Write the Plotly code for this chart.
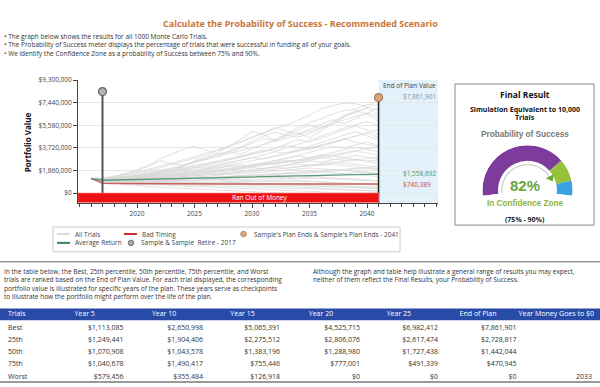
import plotly.graph_objects as go

W, H = 600, 387
BODY = "Open Sans"
ARIAL = "Liberation Sans"

# ---------------- text ----------------
title_text = "Calculate the Probability of Success - Recommended Scenario"
bullets = [
    "• The graph below shows the results for all 1000 Monte Carlo Trials.",
    "• The Probability of Success meter displays the percentage of trials that were successful in funding all of your goals.",
    "• We identify the Confidence Zone as a probability of Success between 75% and 90%.",
]
para_left = [
    "In the table below, the Best, 25th percentile, 50th percentile, 75th percentile, and Worst",
    "trials are ranked based on the End of Plan Value. For each trial displayed, the corresponding",
    "portfolio value is illustrated for specific years of the plan. These years serve as checkpoints",
    "to illustrate how the portfolio might perform over the life of the plan.",
]
para_right = [
    "Although the graph and table help illustrate a general range of results you may expect,",
    "neither of them reflect the Final Results, your Probability of Success.",
]

# ---------------- chart data ($ millions, 2016..2041) ----------------
years = list(range(2016, 2042))
trial_paths_m = [
    [1.20, 1.05, 1.02, 1.10, 1.113085, 1.35, 1.62, 1.95, 2.20, 2.650998, 2.95, 3.30, 3.85, 4.40, 5.065391, 4.80, 4.35, 4.70, 4.95, 4.525715, 5.10, 5.75, 6.40, 6.70, 6.982412, 7.861901],
    [1.20, 1.10, 1.15, 1.22, 1.249441, 1.38, 1.52, 1.63, 1.78, 1.904406, 2.02, 2.10, 2.25, 2.18, 2.275512, 2.40, 2.55, 2.70, 2.62, 2.806076, 2.95, 2.80, 2.70, 2.75, 2.617474, 2.728817],
    [1.20, 1.00, 1.03, 1.08, 1.070908, 1.10, 1.02, 0.98, 1.06, 1.043578, 1.12, 1.25, 1.30, 1.42, 1.383196, 1.35, 1.25, 1.30, 1.22, 1.288980, 1.40, 1.55, 1.62, 1.70, 1.727438, 1.442044],
    [1.20, 0.98, 1.02, 1.05, 1.040678, 1.15, 1.28, 1.36, 1.42, 1.490417, 1.30, 1.12, 0.95, 0.85, 0.755446, 0.80, 0.74, 0.82, 0.79, 0.777001, 0.70, 0.62, 0.58, 0.52, 0.491339, 0.470945],
    [1.20, 0.90, 0.82, 0.70, 0.579456, 0.52, 0.47, 0.42, 0.39, 0.355484, 0.30, 0.25, 0.20, 0.16, 0.126918, 0.08, 0.03, 0, 0, 0, 0, 0, 0, 0, 0, 0],
    [1.20, 1.25, 1.40, 1.55, 1.75, 1.95, 2.20, 2.45, 2.70, 3.00, 3.30, 3.55, 3.90, 4.20, 4.60, 4.90, 5.30, 5.60, 6.00, 6.40, 6.90, 7.20, 7.40, 7.35, 7.10, 6.80],
    [1.20, 1.20, 1.35, 1.60, 1.90, 2.30, 2.80, 3.20, 3.60, 3.85, 3.50, 3.20, 3.40, 3.70, 4.10, 4.50, 4.30, 4.80, 5.20, 5.60, 5.30, 5.90, 6.30, 6.60, 7.00, 6.40],
    [1.20, 1.15, 1.30, 1.55, 1.85, 2.20, 2.67, 2.40, 2.30, 2.55, 2.80, 3.10, 3.40, 3.20, 3.60, 4.00, 4.40, 4.90, 5.40, 5.80, 6.10, 6.50, 6.80, 6.90, 7.30, 7.20],
    [1.20, 1.10, 1.20, 1.30, 1.45, 1.60, 1.80, 2.00, 2.25, 2.50, 2.75, 3.00, 3.20, 3.45, 3.70, 3.95, 4.20, 4.50, 4.80, 5.10, 5.40, 5.70, 6.00, 6.30, 6.60, 6.20],
    [1.20, 1.15, 1.25, 1.40, 1.55, 1.70, 1.85, 2.05, 2.30, 2.55, 2.85, 3.15, 3.45, 3.80, 4.25, 4.70, 5.00, 4.75, 4.60, 4.90, 5.30, 5.70, 6.20, 6.80, 6.50, 5.90],
    [1.20, 1.12, 1.22, 1.33, 1.47, 1.62, 1.80, 1.95, 2.10, 2.28, 2.45, 2.62, 2.85, 3.05, 3.30, 3.55, 3.45, 3.70, 4.00, 4.35, 4.70, 5.00, 5.35, 5.60, 5.90, 5.50],
    [1.20, 1.08, 1.15, 1.25, 1.35, 1.48, 1.60, 1.75, 1.92, 2.10, 2.30, 2.50, 2.70, 2.95, 3.20, 3.40, 3.70, 4.05, 4.40, 4.20, 4.50, 4.85, 5.20, 5.50, 5.20, 4.80],
    [1.20, 1.10, 1.18, 1.28, 1.40, 1.52, 1.66, 1.80, 1.95, 2.12, 2.05, 2.25, 2.45, 2.65, 2.90, 3.15, 3.40, 3.30, 3.55, 3.85, 4.15, 4.45, 4.75, 5.05, 4.70, 4.40],
    [1.20, 1.05, 1.10, 1.18, 1.27, 1.37, 1.48, 1.60, 1.72, 1.85, 2.00, 2.15, 2.30, 2.48, 2.66, 2.85, 3.05, 3.25, 3.48, 3.72, 3.95, 4.20, 4.45, 4.20, 4.00, 3.80],
    [1.20, 1.08, 1.14, 1.22, 1.31, 1.40, 1.52, 1.45, 1.58, 1.72, 1.86, 2.02, 2.18, 2.35, 2.20, 2.40, 2.62, 2.85, 3.10, 3.35, 3.60, 3.85, 3.70, 3.95, 4.20, 3.90],
    [1.20, 1.03, 1.08, 1.14, 1.20, 1.28, 1.36, 1.45, 1.55, 1.66, 1.78, 1.90, 2.04, 2.18, 2.33, 2.50, 2.68, 2.86, 3.05, 2.90, 3.10, 3.32, 3.55, 3.78, 3.60, 3.40],
    [1.20, 1.06, 1.12, 1.19, 1.26, 1.34, 1.43, 1.53, 1.64, 1.76, 1.70, 1.82, 1.95, 2.10, 2.25, 2.42, 2.35, 2.52, 2.72, 2.92, 3.14, 3.00, 3.22, 3.45, 3.30, 3.10],
    [1.20, 1.02, 1.06, 1.11, 1.17, 1.24, 1.32, 1.40, 1.49, 1.58, 1.68, 1.79, 1.90, 2.02, 2.15, 2.29, 2.44, 2.60, 2.50, 2.68, 2.86, 3.05, 2.92, 3.10, 2.95, 2.80],
    [1.20, 1.04, 1.09, 1.15, 1.22, 1.30, 1.38, 1.46, 1.40, 1.50, 1.61, 1.72, 1.84, 1.97, 2.10, 2.02, 2.16, 2.31, 2.47, 2.64, 2.55, 2.72, 2.90, 2.78, 2.60, 2.45],
    [1.20, 1.00, 1.03, 1.07, 1.12, 1.18, 1.24, 1.31, 1.38, 1.46, 1.54, 1.63, 1.72, 1.82, 1.92, 2.03, 2.14, 2.26, 2.38, 2.30, 2.42, 2.55, 2.45, 2.35, 2.25, 2.15],
    [1.20, 1.07, 1.13, 1.09, 1.16, 1.24, 1.33, 1.42, 1.38, 1.47, 1.57, 1.52, 1.63, 1.74, 1.86, 1.98, 2.11, 2.04, 2.18, 2.32, 2.24, 2.38, 2.28, 2.14, 2.05, 1.95],
    [1.20, 0.98, 1.00, 1.03, 1.07, 1.11, 1.16, 1.21, 1.26, 1.32, 1.38, 1.44, 1.51, 1.58, 1.65, 1.73, 1.81, 1.89, 1.98, 2.07, 2.00, 1.92, 1.85, 1.78, 1.70, 1.62],
    [1.20, 1.02, 1.05, 1.02, 1.06, 1.11, 1.08, 1.14, 1.20, 1.26, 1.22, 1.29, 1.36, 1.43, 1.38, 1.46, 1.54, 1.62, 1.56, 1.65, 1.74, 1.68, 1.60, 1.52, 1.44, 1.36],
    [1.20, 0.96, 0.97, 0.99, 1.01, 1.04, 1.07, 1.10, 1.14, 1.18, 1.22, 1.26, 1.21, 1.26, 1.31, 1.36, 1.42, 1.48, 1.43, 1.37, 1.31, 1.25, 1.19, 1.13, 1.07, 1.01],
    [1.20, 0.95, 0.94, 0.96, 0.98, 0.95, 0.98, 1.01, 1.04, 1.00, 1.03, 1.07, 1.11, 1.06, 1.02, 0.98, 1.03, 1.08, 1.02, 0.96, 0.90, 0.85, 0.80, 0.75, 0.70, 0.64],
    [1.20, 0.93, 0.90, 0.88, 0.86, 0.84, 0.87, 0.90, 0.86, 0.83, 0.80, 0.84, 0.88, 0.84, 0.80, 0.76, 0.72, 0.68, 0.64, 0.60, 0.56, 0.52, 0.48, 0.44, 0.40, 0.36],
    [1.20, 0.92, 0.89, 0.83, 0.81, 0.76, 0.75, 0.70, 0.69, 0.64, 0.63, 0.58, 0.57, 0.52, 0.51, 0.46, 0.45, 0.40, 0.39, 0.34, 0.33, 0.28, 0.27, 0.22, 0.21, 0.16],
    [1.20, 0.94, 0.91, 0.89, 0.92, 0.88, 0.85, 0.82, 0.86, 0.83, 0.79, 0.76, 0.72, 0.69, 0.65, 0.62, 0.58, 0.54, 0.50, 0.46, 0.42, 0.37, 0.32, 0.27, 0.22, 0.17],
    [1.20, 0.90, 0.86, 0.79, 0.76, 0.70, 0.67, 0.61, 0.59, 0.53, 0.51, 0.45, 0.43, 0.37, 0.35, 0.29, 0.27, 0.21, 0.19, 0.13, 0.11, 0.05, 0.02, 0, 0, 0],
    [1.20, 1.01, 1.04, 1.08, 1.13, 1.18, 1.23, 1.29, 1.35, 1.41, 1.48, 1.55, 1.62, 1.70, 1.78, 1.86, 1.95, 2.04, 2.14, 2.24, 2.35, 2.46, 2.58, 2.70, 2.82, 2.95],
    [1.20, 1.18, 1.32, 1.48, 1.66, 1.86, 2.08, 2.32, 2.58, 2.86, 3.16, 3.48, 3.82, 4.18, 4.56, 4.96, 5.38, 5.10, 4.85, 5.25, 5.65, 6.05, 5.70, 6.10, 6.55, 7.00],
    [1.20, 1.09, 1.17, 1.26, 1.36, 1.47, 1.59, 1.72, 1.86, 2.01, 2.17, 2.34, 2.52, 2.71, 2.91, 2.80, 3.00, 3.21, 3.43, 3.66, 3.90, 4.15, 4.41, 4.68, 4.96, 5.25],
    [1.20, 1.11, 1.21, 1.32, 1.44, 1.57, 1.71, 1.86, 2.02, 2.19, 2.37, 2.56, 2.76, 2.97, 3.19, 3.42, 3.66, 3.91, 3.75, 3.60, 3.85, 4.11, 4.38, 4.66, 4.95, 4.60],
    [1.20, 1.05, 1.11, 1.17, 1.24, 1.31, 1.39, 1.47, 1.56, 1.65, 1.75, 1.85, 1.96, 2.07, 2.19, 2.31, 2.44, 2.57, 2.71, 2.85, 3.00, 3.15, 3.31, 3.47, 3.64, 3.81],
    [1.20, 0.99, 1.01, 1.04, 1.07, 1.10, 1.13, 1.17, 1.21, 1.25, 1.29, 1.33, 1.38, 1.43, 1.48, 1.53, 1.58, 1.64, 1.70, 1.76, 1.82, 1.89, 1.96, 2.03, 2.10, 2.17],
    [1.20, 0.97, 0.99, 0.95, 0.98, 1.02, 0.99, 1.03, 1.07, 1.04, 1.08, 1.12, 1.09, 1.13, 1.17, 1.14, 1.18, 1.22, 1.19, 1.23, 1.20, 1.16, 1.12, 1.08, 1.04, 1.00],
    [1.20, 0.96, 0.93, 0.95, 0.92, 0.89, 0.91, 0.88, 0.85, 0.87, 0.84, 0.86, 0.89, 0.92, 0.95, 0.98, 0.94, 0.97, 1.00, 0.96, 0.92, 0.88, 0.84, 0.80, 0.76, 0.72],
    [1.20, 1.00, 1.02, 1.06, 1.04, 1.09, 1.14, 1.12, 1.18, 1.24, 1.30, 1.27, 1.34, 1.41, 1.48, 1.45, 1.52, 1.60, 1.68, 1.76, 1.72, 1.81, 1.90, 1.99, 2.08, 1.98],
    [1.20, 0.94, 0.92, 0.90, 0.93, 0.96, 0.99, 0.96, 0.93, 0.90, 0.87, 0.84, 0.81, 0.78, 0.75, 0.72, 0.69, 0.66, 0.63, 0.60, 0.57, 0.54, 0.51, 0.48, 0.45, 0.42],
]
avg_return_m = [1.20, 1.05, 1.07, 1.09, 1.11, 1.13, 1.15, 1.17, 1.19, 1.21, 1.23, 1.25, 1.27, 1.29, 1.31,
                1.33, 1.35, 1.37, 1.39, 1.41, 1.43, 1.45, 1.47, 1.49, 1.52, 1.558692]
bad_timing_m = [1.20, 0.80, 0.79, 0.78, 0.78, 0.77, 0.77, 0.77, 0.76, 0.76, 0.76, 0.76, 0.75, 0.75, 0.75,
                0.75, 0.75, 0.75, 0.75, 0.74, 0.74, 0.74, 0.74, 0.74, 0.74, 0.740389]

retire_year = 2017
retire_marker_value = 8350000
plan_end_year = 2041
end_best = 7861901
end_avg = 1558692
end_bad = 740389

y_tick_vals = [0, 1860000, 3720000, 5580000, 7440000, 9300000]
x_tick_vals = [2020, 2025, 2030, 2035, 2040]
x_range = [2014.87, 2046.17]
y_range = [-850000, 9300000]

# ---------------- gauge ----------------
prob_success = 82
zone_low, zone_high = 75, 90

# ---------------- table ----------------
table_columns = ["Trials", "Year 5", "Year 10", "Year 15", "Year 20", "Year 25", "End of Plan", "Year Money Goes to $0"]
trial_names = ["Best", "25th", "50th", "75th", "Worst"]
year5 = [1113085, 1249441, 1070908, 1040678, 579456]
year10 = [2650998, 1904406, 1043578, 1490417, 355484]
year15 = [5065391, 2275512, 1383196, 755446, 126918]
year20 = [4525715, 2806076, 1288980, 777001, 0]
year25 = [6982412, 2617474, 1727438, 491339, 0]
end_of_plan = [7861901, 2728817, 1442044, 470945, 0]
year_to_zero = ["", "", "", "", "2033"]

# ---------------- helpers (pixel -> paper) ----------------
def fx(x):
    return x / W

def fy(y):
    return 1 - y / H

annotations = []
shapes = []

def ann(text, x, y, size, color="#333", bold=False, family=BODY, xanchor="left", yanchor="middle", **kw):
    annotations.append(dict(text=f"<b>{text}</b>" if bold else text, x=fx(x), y=fy(y), xref="paper", yref="paper",
                            showarrow=False, xanchor=xanchor, yanchor=yanchor,
                            font=dict(size=size, color=color, family=family), **kw))

def rect(x0, y0, x1, y1, **kw):
    shapes.append(dict(type="rect", xref="paper", yref="paper", x0=fx(x0), x1=fx(x1), y0=fy(y0), y1=fy(y1), **kw))

def hline(x0, x1, y, color, width):
    shapes.append(dict(type="line", xref="paper", yref="paper", x0=fx(x0), x1=fx(x1), y0=fy(y), y1=fy(y),
                       line=dict(color=color, width=width)))

def dot(x, y, r, fill, edge):
    shapes.append(dict(type="circle", xref="paper", yref="paper", x0=fx(x - r), x1=fx(x + r), y0=fy(y + r), y1=fy(y - r),
                       fillcolor=fill, line=dict(color=edge, width=1)))

fig = go.Figure()

# ---------------- chart traces ----------------
for path in trial_paths_m:
    fig.add_trace(go.Scatter(x=years, y=[v * 1e6 for v in path], mode="lines",
                             line=dict(color="#d9d9d9", width=0.8), hoverinfo="skip"))
fig.add_trace(go.Scatter(x=years, y=[v * 1e6 for v in bad_timing_m], mode="lines",
                         line=dict(color="#c9605c", width=1.4), hoverinfo="skip"))
fig.add_trace(go.Scatter(x=years, y=[v * 1e6 for v in avg_return_m], mode="lines",
                         line=dict(color="#5b9a78", width=1.4), hoverinfo="skip"))
fig.add_trace(go.Scatter(x=[retire_year, retire_year], y=[0, retire_marker_value], mode="lines",
                         line=dict(color="#555555", width=2), hoverinfo="skip"))
fig.add_trace(go.Scatter(x=[plan_end_year, plan_end_year], y=[y_range[0], end_best], mode="lines",
                         line=dict(color="#222222", width=1.5), hoverinfo="skip"))
fig.add_trace(go.Scatter(x=[retire_year], y=[retire_marker_value], mode="markers",
                         marker=dict(size=8, color="#b3b3b3", line=dict(color="#666666", width=1.2)), hoverinfo="skip"))
fig.add_trace(go.Scatter(x=[plan_end_year], y=[end_best], mode="markers",
                         marker=dict(size=8, color="#dba57c", line=dict(color="#a0765a", width=1.2)), hoverinfo="skip"))

# plan-end zone and run-out bar
shapes.append(dict(type="rect", xref="x", yref="y domain", x0=plan_end_year, x1=x_range[1], y0=0, y1=1,
                   fillcolor="#e3f1fb", line=dict(width=0), layer="below"))
shapes.append(dict(type="rect", xref="x", yref="y", x0=x_range[0], x1=plan_end_year, y0=0, y1=-780000,
                   fillcolor="#ee1111", line=dict(color="#ff8080", width=0.6), layer="above"))
annotations.append(dict(text="Ran Out of Money", x=2030.7, y=-390000, xref="x", yref="y", showarrow=False,
                        font=dict(size=6.5, color="white", family=BODY)))

# ---------------- gauge (polar) ----------------
span = 194.0
deg = span / 100.0
segs = [(0, zone_low, "#7d3c9c"), (zone_low, zone_high, "#97c23c"), (zone_high, 100, "#3aa2e2")]
fig.add_trace(go.Barpolar(theta=[(a + b) / 2 * deg for a, b, _ in segs], width=[(b - a) * deg for a, b, _ in segs],
                          r=[0.773] * 3, base=[0.227] * 3, marker=dict(color=[c for _, _, c in segs], line=dict(width=0)),
                          subplot="polar", hoverinfo="skip"))
fig.add_trace(go.Barpolar(theta=[prob_success * deg / 2], width=[prob_success * deg], r=[0.07], base=[0.0],
                          marker=dict(color="#cfcfcf", line=dict(width=0)), subplot="polar", hoverinfo="skip"))
fig.add_trace(go.Scatterpolar(theta=[prob_success * deg], r=[0.08], mode="markers",
                              marker=dict(symbol="triangle-right", size=8, color="#6aaa3a", angle=62),
                              subplot="polar", hoverinfo="skip"))

# ---------------- table: header layer + value layer ----------------
def money(v):
    return f"${v:,.0f}"

cell_values = [trial_names, [money(v) for v in year5], [money(v) for v in year10], [money(v) for v in year15],
               [money(v) for v in year20], [money(v) for v in year25], [money(v) for v in end_of_plan], year_to_zero]
blank_cells = [[""] * len(trial_names) for _ in table_columns]
header_text = [c.replace(" ", "\u00a0") for c in table_columns]
blank_header = [""] * len(table_columns)
hdr_widths = [66.5, 77.5, 78.5, 78.5, 78, 73, 59, 89.5]
val_widths = [72, 59.6, 79.4, 77, 80, 78, 78.6, 75.4]
TBL_TOP = 302
HDR_H = 13.5
ROW_H = 12.2
tbl_dom = dict(x=[0, 1], y=[0, fy(TBL_TOP)])
rect(0, 307.5, 600, 319.5, fillcolor="#2a4aa8", line=dict(width=0), layer="below")
fig.add_trace(go.Table(
    domain=tbl_dom, columnwidth=hdr_widths,
    header=dict(values=header_text, align="left", fill_color="rgba(0,0,0,0)", height=HDR_H,
                font=dict(family=BODY, size=7, color="white"), line=dict(width=0)),
    cells=dict(values=blank_cells, height=ROW_H, line=dict(width=0), fill_color="rgba(0,0,0,0)",
               font=dict(family=BODY, size=7, color="#333"))))
fig.add_trace(go.Table(
    domain=tbl_dom, columnwidth=val_widths,
    header=dict(values=blank_header, fill_color="rgba(0,0,0,0)", height=HDR_H, line=dict(width=0),
                font=dict(family=BODY, size=7, color="white")),
    cells=dict(values=cell_values, align=["left"] + ["right"] * 7, height=ROW_H, fill_color="rgba(0,0,0,0)",
               line=dict(width=0), font=dict(family=BODY, size=7, color="#333"))))
hline(0, 600, 382, "#9a9a9a", 2)

# ---------------- texts ----------------
ann(title_text, 300, 19, 9, color="#c8753b", bold=True, xanchor="center")
for i, b in enumerate(bullets):
    ann(b, 2, 32 + i * 8.5, 6.5, color="#333")
ann("Portfolio Value", 27, 139, 8, color="#111", bold=True, xanchor="center", textangle=-90)
ann("End of Plan Value", 409.5, 82, 6.5, color="#444", xanchor="center")
ann(money(end_best), 401, 93, 6.5, color="#8795a8")
ann(money(end_avg), 401, 171, 6.5, color="#3f9a63")
ann(money(end_bad), 401, 182, 6.5, color="#cf4a4a")

# legend (manual)
rect(53, 225, 400, 250, line=dict(color="#cccccc", width=1), fillcolor="rgba(0,0,0,0)")
hline(57, 70, 232, "#cfcfcf", 1.5)
ann("All Trials", 73, 232, 6.5, color="#444")
hline(124, 137, 232, "#c9302c", 2)
ann("Bad Timing", 140, 232, 6.5, color="#444")
dot(243.5, 232, 2.8, "#d9a47c", "#b58a6a")
ann("Sample's Plan Ends & Sample's Plan Ends - 2041", 252, 232, 6.5, color="#444")
hline(57, 70, 241, "#3d7f5e", 2)
ann("Average Return", 73, 241, 6.5, color="#444")
dot(131, 241, 2.8, "#aaaaaa", "#777777")
ann("Sample & Sample  Retire - 2017", 139, 241, 6.5, color="#444")

# gauge box
rect(455, 80, 594, 223, line=dict(color="#8a8a8a", width=1), fillcolor="rgba(0,0,0,0)")
ann("Final Result", 525, 91, 8.5, color="#111", bold=True, xanchor="center")
ann("Simulation Equivalent to 10,000", 525, 106, 7, color="#111", bold=True, xanchor="center")
ann("Trials", 525, 114, 7, color="#111", bold=True, xanchor="center")
ann("Probability of Success", 525, 131.5, 8.2, color="#777777", bold=True, family=ARIAL, xanchor="center")
ann(f"{prob_success}%", 525, 183, 15, color="#6aa43c", bold=True, family=ARIAL, xanchor="center")
ann("In Confidence Zone", 525, 201, 8.2, color="#8cb43c", bold=True, family=ARIAL, xanchor="center")
ann(f"({zone_low}% - {zone_high}%)", 525, 217, 7, color="#222", bold=True, xanchor="center")

# separator and paragraphs
hline(0, 600, 260, "#9a9a9a", 1.5)
for i, t in enumerate(para_left):
    ann(t, 2, 270 + i * 8.5, 6.5, color="#333")
for i, t in enumerate(para_right):
    ann(t, 311, 270 + i * 8.5, 6.5, color="#333")

fig.update_layout(
    width=W, height=H, margin=dict(l=0, r=0, t=0, b=0),
    paper_bgcolor="white", plot_bgcolor="white", showlegend=False,
    xaxis=dict(domain=[fx(78), fx(438)], range=x_range, tickvals=x_tick_vals, ticks="outside", ticklen=4,
               tickcolor="#444", showline=True, linecolor="#444", linewidth=1, showgrid=False, zeroline=False,
               tickfont=dict(size=6.5, color="#444", family=BODY),
               minor=dict(dtick=1, tick0=2015, ticks="outside", ticklen=2.5, tickcolor="#444")),
    yaxis=dict(domain=[fy(201), fy(76)], range=y_range, tickvals=y_tick_vals, tickformat="$,.0f", ticks="outside",
               ticklen=4, tickcolor="#444", showline=True, linecolor="#444", linewidth=1, gridcolor="#e6e6e6",
               zeroline=False, tickfont=dict(size=6.5, color="#444", family=BODY)),
    polar=dict(domain=dict(x=[fx(481.5), fx(573.5)], y=[fy(193.3), fy(142)]), sector=[-7, 187], hole=0.55,
               bgcolor="rgba(0,0,0,0)",
               radialaxis=dict(visible=False, range=[0, 1]),
               angularaxis=dict(visible=False, rotation=187, direction="clockwise")),
    annotations=annotations, shapes=shapes,
)

fig.write_html("out.html", config={"displayModeBar": False},
               post_script="document.body.style.margin='0px';document.body.style.overflow='hidden';")
